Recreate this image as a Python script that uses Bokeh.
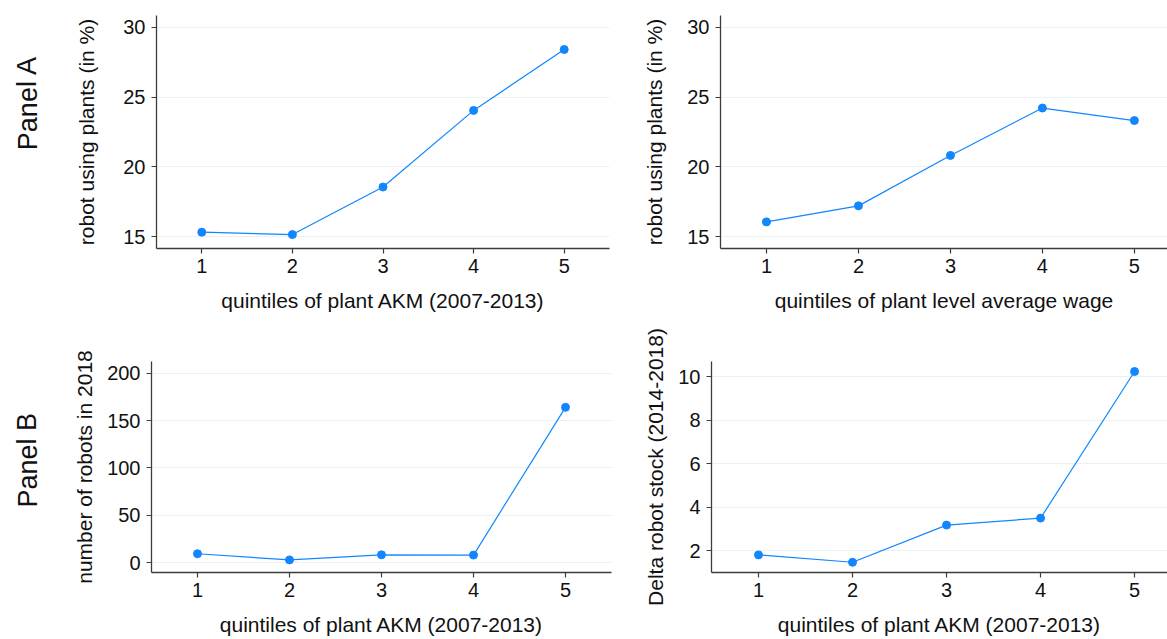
from bokeh.plotting import figure
from bokeh.layouts import row, column
from bokeh.models import FixedTicker, Range1d, Label
from bokeh.embed import file_html
from bokeh.resources import INLINE

# ---- data ----
quintiles = [1, 2, 3, 4, 5]
share_by_akm = [15.31, 15.14, 18.55, 24.05, 28.42]
share_by_wage = [16.05, 17.2, 20.82, 24.22, 23.32]
robots_2018 = [9.3, 2.8, 8.2, 7.9, 164.0]
delta_stock = [1.8, 1.46, 3.17, 3.49, 10.23]

x_ticks = [1, 2, 3, 4, 5]
share_ticks = [15, 20, 25, 30]
robots_ticks = [0, 50, 100, 150, 200]
delta_ticks = [2, 4, 6, 8, 10]

title_akm = "quintiles of plant AKM (2007-2013)"
title_wage = "quintiles of plant level average wage"
ylab_share = "robot using plants (in %)"
ylab_robots = "number of robots in 2018"
ylab_delta = "Delta robot stock (2014-2018)"
panel_labels = ["Panel A", "Panel B"]

FONT = "Liberation Sans"
BLUE = "#1286ff"
GRID = "#e9f1f2"
AXIS = "#3c3c3c"


def panel(x, y, xr, yr, yticks, xlabel, ylabel, width, height,
          bl, br, bt, bb, ystand, xstand):
    p = figure(width=width, height=height,
               x_range=Range1d(*xr), y_range=Range1d(*yr),
               output_backend="svg", toolbar_location=None,
               min_border_left=bl, min_border_right=br,
               min_border_top=bt, min_border_bottom=bb)
    p.outline_line_color = None
    p.background_fill_color = "white"
    p.border_fill_color = "white"
    p.xgrid.grid_line_color = None
    p.ygrid.grid_line_color = GRID
    p.ygrid.grid_line_width = 1
    p.xaxis.ticker = FixedTicker(ticks=x_ticks)
    p.yaxis.ticker = FixedTicker(ticks=yticks)
    for ax in (p.xaxis[0], p.yaxis[0]):
        ax.axis_line_color = AXIS
        ax.axis_line_width = 1.3
        ax.major_tick_line_color = AXIS
        ax.major_tick_line_width = 1.2
        ax.major_tick_out = 5
        ax.major_tick_in = 0
        ax.minor_tick_line_color = None
        ax.major_label_text_font = FONT
        ax.major_label_text_font_size = "20px"
        ax.major_label_text_color = "#111111"
        ax.axis_label_text_font = FONT
        ax.axis_label_text_font_size = "21px"
        ax.axis_label_text_font_style = "normal"
        ax.axis_label_text_color = "#111111"
    p.xaxis.major_label_standoff = 5
    p.yaxis.major_label_standoff = 6
    p.xaxis.axis_label = xlabel
    p.yaxis.axis_label = ylabel
    p.yaxis.axis_label_standoff = ystand
    p.xaxis.axis_label_standoff = xstand
    p.line(x, y, line_color=BLUE, line_width=1.2)
    p.scatter(x, y, marker="circle", size=8, fill_color=BLUE, line_color=BLUE)
    return p


def label_col(text, height, fy):
    p = figure(width=60, height=height, x_range=Range1d(0, 1), y_range=Range1d(0, 1),
               output_backend="svg", toolbar_location=None,
               min_border_left=0, min_border_right=0, min_border_top=0, min_border_bottom=0)
    p.axis.visible = False
    p.grid.visible = False
    p.outline_line_color = None
    p.add_layout(Label(x=0.45, y=fy, text=text, angle=1.5708,
                       text_align="center", text_baseline="middle",
                       text_font=FONT, text_font_size="27px", text_color="#111111"))
    return p


tl = panel(quintiles, share_by_akm, (0.5, 5.5), (14.14, 30.86), share_ticks,
           title_akm, ylab_share, 580, 325, 96, 31, 15, 77, 22, 13)
tr = panel(quintiles, share_by_wage, (0.5, 5.36), (14.14, 30.86), share_ticks,
           title_wage, ylab_share, 527, 325, 77, 0, 15, 77, 18, 13)
bl = panel(quintiles, robots_2018, (0.5, 5.5), (-10.5, 212.4), robots_ticks,
           title_akm, ylab_robots, 580, 314, 91, 29, 15, 66, 8, 13)
br = panel(quintiles, delta_stock, (0.5, 5.35), (0.99, 10.69), delta_ticks,
           title_akm, ylab_delta, 527, 314, 71, 0, 36, 67, 8, 13)

la = label_col(panel_labels[0], 325, 0.625)
lb = label_col(panel_labels[1], 314, 0.532)

layout = column(row(la, tl, tr, spacing=0), row(lb, bl, br, spacing=0), spacing=0)

open("out.html", "w").write(file_html(layout, INLINE))
